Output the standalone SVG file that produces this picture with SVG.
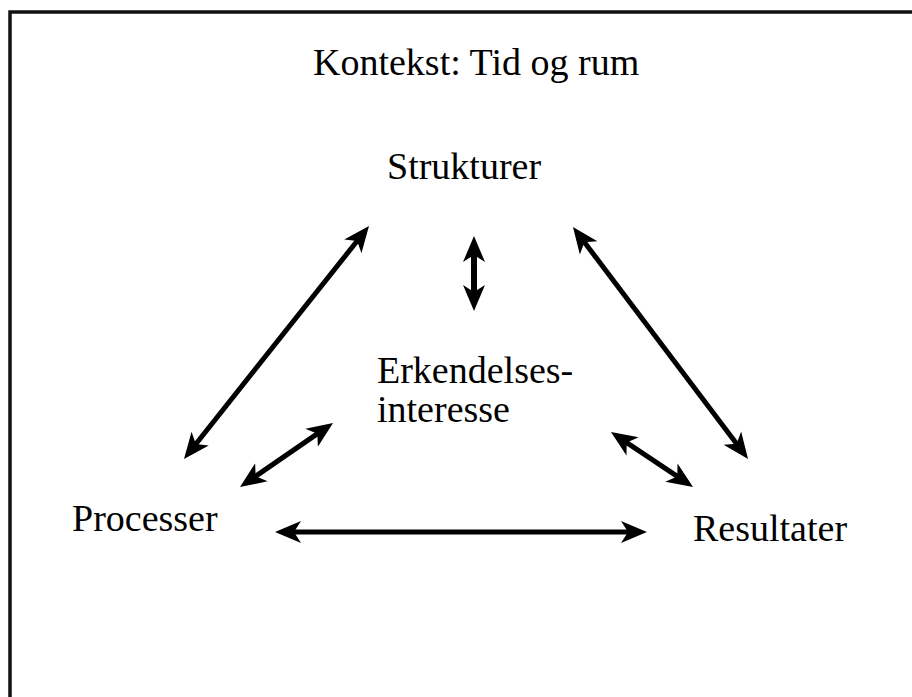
<svg xmlns="http://www.w3.org/2000/svg" width="912" height="697" viewBox="0 0 912 697">
  <style>
    text { font-family: 'Liberation Serif', 'Times New Roman', Times, serif; font-size: 38px; fill: #000; }
    .con { stroke: #000; stroke-width: 5; fill: none; marker-start: url(#ah); marker-end: url(#ah); }
  </style>
  <defs>
    <marker id="ah" viewBox="0 0 28 24" refX="12" refY="12" markerWidth="28" markerHeight="24" markerUnits="userSpaceOnUse" orient="auto-start-reverse">
      <path d="M26,12 L0,1 L7,12 L0,23 Z" fill="#000"/>
    </marker>
  </defs>
  <rect x="0" y="0" width="912" height="697" fill="#fff"/>
  <rect id="frame" x="10" y="12" width="1000" height="1000" fill="none" stroke="#111" stroke-width="3.5"/>

  <g id="connectors">
    <line class="con" x1="360.3" y1="237" x2="192.7" y2="448"/>
    <line class="con" x1="474" y1="250" x2="474" y2="297" style="stroke-width:6"/>
    <line class="con" x1="321.5" y1="430.9" x2="251.5" y2="479.1"/>
    <line class="con" x1="581.4" y1="238.2" x2="739.6" y2="447.8"/>
    <line class="con" x1="622.6" y1="439.8" x2="681.4" y2="479.2"/>
    <line class="con" x1="289" y1="532" x2="633" y2="532"/>
  </g>

  <g id="title"><text x="313" y="75" font-family="Liberation Serif, serif">Kontekst: Tid og rum</text></g>
  <g id="strukturer"><text x="387" y="179" font-family="Liberation Serif, serif">Strukturer</text></g>
  <g id="erkendelsesinteresse">
    <text x="377" y="383" font-family="Liberation Serif, serif">Erkendelses-</text>
    <text x="377" y="422" font-family="Liberation Serif, serif">interesse</text>
  </g>
  <g id="processer"><text x="72" y="531" font-family="Liberation Serif, serif">Processer</text></g>
  <g id="resultater"><text x="693" y="541" font-family="Liberation Serif, serif">Resultater</text></g>
</svg>
